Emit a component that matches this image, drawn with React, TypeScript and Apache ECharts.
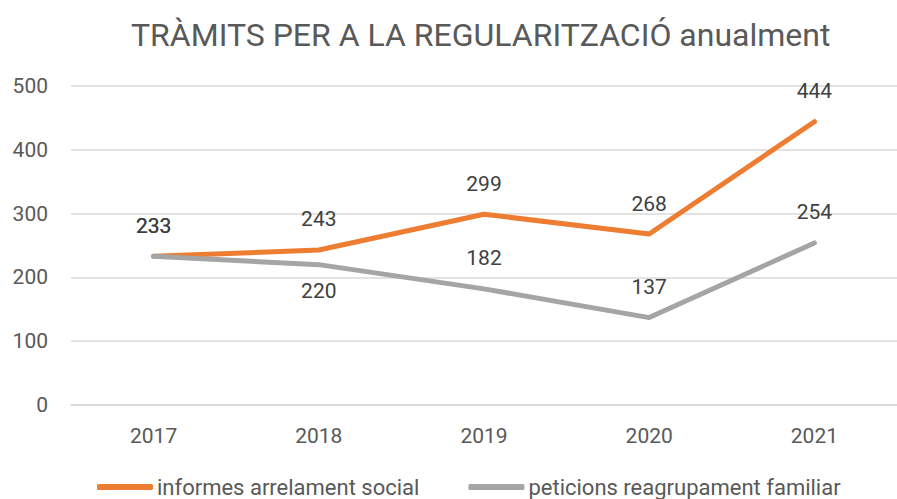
import React, { useEffect, useRef } from "react";
import * as echarts from "echarts";

const years = ["2017", "2018", "2019", "2020", "2021"];
const informes = [233, 243, 299, 268, 444];
const peticions = [233, 220, 182, 137, 254];
const peticionsLabelPos = ["top", "bottom", "top", "top", "top"];

const FONT = "Roboto, sans-serif";

export default function App() {
  const ref = useRef<HTMLDivElement>(null);
  useEffect(() => {
    const chart = echarts.init(ref.current!, undefined, { renderer: "svg" });
    chart.setOption({
      animation: false,
      textStyle: { fontFamily: FONT },
      title: {
        text: "TRÀMITS PER A LA REGULARITZACIÓ anualment",
        left: 126,
        top: 14,
        textStyle: { fontFamily: FONT, fontSize: 32, fontWeight: "normal", color: "#595959" },
      },
      legend: {
        left: 97,
        top: 476,
        padding: 0,
        itemWidth: 56,
        itemHeight: 6,
        itemGap: 49,
        icon: "roundRect",
        textStyle: { fontFamily: FONT, fontSize: 22, color: "#595959", padding: [0, 0, 0, -1] },
        data: ["informes arrelament social", "peticions reagrupament familiar"],
      },
      grid: { left: 71, top: 86, width: 838, height: 319, containLabel: false },
      xAxis: {
        type: "category",
        data: years,
        boundaryGap: true,
        axisLine: { lineStyle: { color: "#D9D9D9", width: 1.5 } },
        axisTick: { show: false },
        axisLabel: { fontFamily: FONT, fontSize: 21, color: "#595959", margin: 20 },
      },
      yAxis: {
        type: "value",
        min: 0,
        max: 500,
        interval: 100,
        axisLine: { show: false },
        axisTick: { show: false },
        splitLine: { lineStyle: { color: "#D9D9D9", width: 1.5 } },
        axisLabel: { fontFamily: FONT, fontSize: 21, color: "#595959", margin: 23 },
      },
      series: [
        {
          name: "informes arrelament social",
          type: "line",
          data: informes,
          symbol: "circle",
          symbolSize: 0,
          showSymbol: true,
          lineStyle: { color: "#ED7D31", width: 5, cap: "round", join: "round" },
          itemStyle: { color: "#ED7D31" },
          label: {
            show: true,
            position: "top",
            distance: 20,
            fontFamily: FONT,
            fontSize: 21,
            color: "#404040",
          },
          z: 3,
        },
        {
          name: "peticions reagrupament familiar",
          type: "line",
          data: peticions.map((v, i) => ({
            value: v,
            label: {
              position: peticionsLabelPos[i],
              distance: peticionsLabelPos[i] === "bottom" ? 16 : 20,
            },
          })),
          symbol: "circle",
          symbolSize: 0,
          showSymbol: true,
          lineStyle: { color: "#A5A5A5", width: 5, cap: "round", join: "round" },
          itemStyle: { color: "#A5A5A5" },
          label: {
            show: true,
            position: "top",
            distance: 20,
            fontFamily: FONT,
            fontSize: 21,
            color: "#404040",
          },
          z: 4,
        },
      ],
    });
    return () => chart.dispose();
  }, []);
  return <div ref={ref} style={{ width: 897, height: 499, position: "absolute", left: 0, top: 0, overflow: "hidden" }} />;
}
